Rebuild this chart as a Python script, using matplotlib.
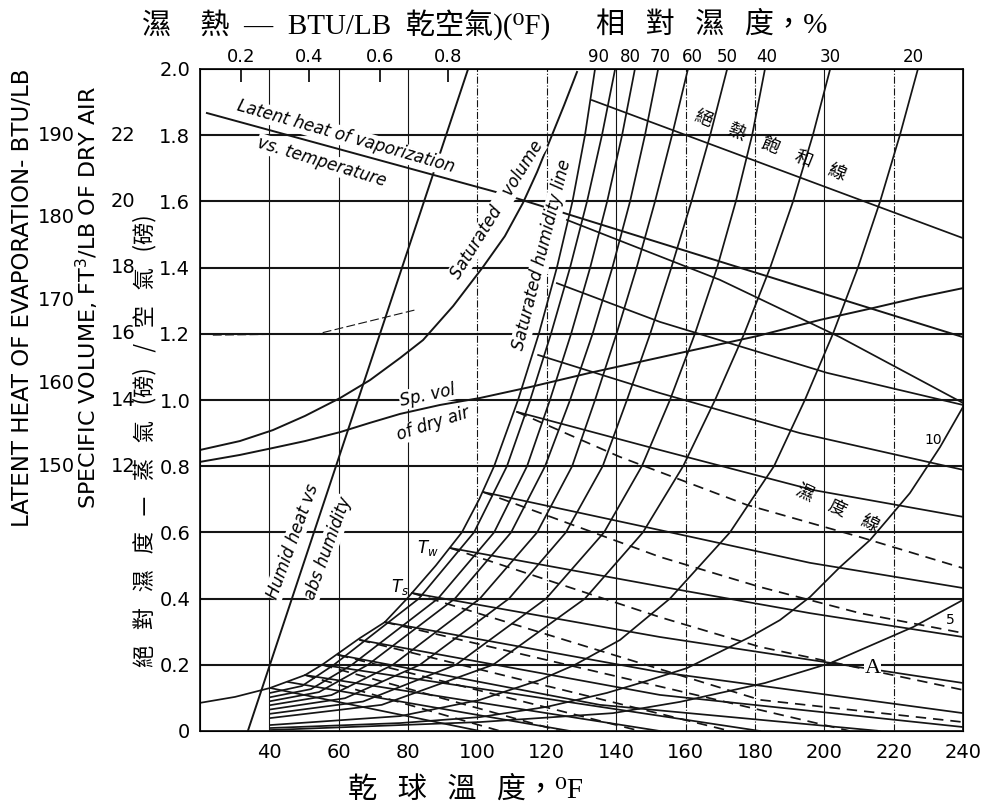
import matplotlib
matplotlib.use("Agg")
import matplotlib.pyplot as plt
from matplotlib.transforms import blended_transform_factory

plt.rcParams['font.family'] = ['DejaVu Sans', 'Noto Sans CJK TC']

CJK_SERIF = ['Liberation Serif', 'DejaVu Serif', 'Noto Sans CJK TC']
CJK = ['Noto Sans CJK TC', 'DejaVu Sans']

# axis scales
temp_ticks = [40, 60, 80, 100, 120, 140, 160, 180, 200, 220, 240]
hum_ticks = [0, 0.2, 0.4, 0.6, 0.8, 1.0, 1.2, 1.4, 1.6, 1.8, 2.0]
hum_labels = ['0', '0.2', '0.4', '0.6', '0.8', '1.0', '1.2', '1.4', '1.6', '1.8', '2.0']
humid_heat_vals = ['0.2', '0.4', '0.6', '0.8']
humid_heat_temps = [31.8, 51.4, 71.9, 91.5]
rh_label_vals = ['90', '80', '70', '60', '50', '40', '30', '20']
rh_label_temps = [134.8, 144.0, 152.6, 162.1, 172.0, 183.5, 201.7, 225.6]
latent_vals = ['150', '160', '170', '180', '190']
latent_hum = [0.8, 1.05, 1.3, 1.55, 1.8]
spvol_vals = ['12', '14', '16', '18', '20', '22']
spvol_hum = [0.8, 1.0, 1.2, 1.4, 1.6, 1.8]

# relative humidity curves: saturation line, then 90..30 % read at fixed humidity rows
rh100_T = [20, 30.1, 40.2, 50.3, 55.2, 66.0, 73.3, 79.7, 88.0, 95.5, 100.5, 104.8, 111.7, 117.7, 122.9, 127.4, 131.0, 133.9]
rh100_H = [0.085, 0.103, 0.13, 0.169, 0.2, 0.28, 0.329, 0.4, 0.5, 0.6, 0.7, 0.8, 1.0, 1.2, 1.4, 1.6, 1.8, 2.0]
rh_rows = [0.2, 0.4, 0.6, 0.8, 1.0, 1.2, 1.4, 1.6, 1.8, 2.0]
rh90_T = [40.2, 49.4, 58.6, 83.1, 99.0, 108.5, 115.2, 121.2, 126.7, 131.6, 135.9, 139.7]
rh80_T = [40.2, 52.0, 63.8, 88.6, 104.8, 114.3, 120.9, 127.0, 132.5, 137.4, 141.7, 145.4]
rh70_T = [40.2, 54.3, 68.4, 93.5, 109.7, 119.5, 126.7, 133.2, 138.9, 144.0, 148.3, 152.1]
rh60_T = [40.2, 57.9, 75.6, 100.7, 117.2, 127.3, 133.9, 140.1, 145.9, 151.2, 156.1, 160.7]
rh50_T = [40.2, 61.8, 83.4, 109.1, 125.5, 136.1, 143.1, 149.8, 155.9, 161.7, 167.1, 172.0]
rh40_T = [40.2, 67.0, 93.8, 119.8, 136.5, 147.4, 155.5, 162.7, 169.1, 174.5, 179.2, 182.9]
rh30_T = [40.2, 72.4, 104.5, 131.0, 147.7, 159.3, 168.5, 176.9, 184.4, 191.0, 196.7, 201.7]
rh_start_H = [0.115, 0.102, 0.09, 0.078, 0.065, 0.052, 0.039]
rh_low_H = [0.136, 0.1265, 0.1175, 0.1085, 0.099, 0.089, 0.079]
rh20_T = [40.2, 77.7, 100.7, 118.0, 128.1, 141.1, 155.5, 172.8, 185.5, 194.4, 202.5, 209.7, 216.1, 221.8, 227.0]
rh20_H = [0.018, 0.045, 0.094, 0.154, 0.2, 0.275, 0.4, 0.6, 0.8, 1.0, 1.2, 1.4, 1.6, 1.8, 2.0]
rh10_T = [40.2, 77.7, 100.7, 120.0, 137.3, 146.9, 160.4, 169.9, 178.6, 187.2, 195.9, 204.5, 213.2, 218.1, 224.7, 233.4, 240]
rh10_H = [0.009, 0.024, 0.042, 0.073, 0.115, 0.145, 0.19, 0.239, 0.284, 0.335, 0.405, 0.495, 0.577, 0.637, 0.719, 0.858, 0.979]
rh5_T = [40.2, 100.7, 139.1, 158.4, 182.9, 201.7, 225.6, 240]
rh5_H = [0.003, 0.027, 0.054, 0.088, 0.145, 0.205, 0.314, 0.396]

# adiabatic saturation lines (solid)
adiabatic = [
    ([133.0, 240], [1.906, 1.489]),
    ([125.8, 169.9, 204.5, 240], [1.544, 1.363, 1.19, 0.991]),
    ([122.9, 152.6, 200.8, 240], [1.353, 1.236, 1.082, 0.985]),
    ([117.5, 152.6, 193.0, 240], [1.136, 1.021, 0.9, 0.789]),
    ([111.4, 152.6, 196.8, 240], [0.964, 0.849, 0.728, 0.647]),
    ([101.6, 152.6, 195.9, 240], [0.722, 0.607, 0.508, 0.432]),
    ([92.1, 158.4, 195.9, 240], [0.553, 0.426, 0.356, 0.284]),
    ([81.1, 152.6, 240], [0.417, 0.284, 0.145]),
    ([73.3, 152.6, 240], [0.329, 0.178, 0.054]),
    ([66.1, 152.6, 240], [0.275, 0.109, 0.012]),
    ([59.8, 135.3, 216.1], [0.23, 0.079, 0.0]),
    ([55.2, 181.5], [0.2, 0.0]),
    ([50.3, 152.6], [0.169, 0.0]),
    ([45.4, 126.7], [0.148, 0.0]),
    ([40.2, 100.7], [0.13, 0.0]),
]
# wet bulb lines (dashed)
wetbulb = [
    ([111.4, 141.1, 177.7, 210.3, 240], [0.964, 0.828, 0.683, 0.586, 0.492]),
    ([101.6, 152.6, 181.5, 210.3, 240], [0.722, 0.526, 0.435, 0.356, 0.296]),
    ([92.1, 152.6, 181.5, 240], [0.553, 0.344, 0.254, 0.124]),
    ([81.1, 181.5, 240], [0.417, 0.094, 0.027]),
    ([73.3, 207.4], [0.329, 0.0]),
    ([66.1, 172.8], [0.275, 0.0]),
    ([59.8, 146.9], [0.23, 0.0]),
    ([55.2, 123.8], [0.2, 0.0]),
    ([50.3, 106.5], [0.169, 0.0]),
]

# property lines
latent_T = [22.0, 106.5, 240]
latent_H = [1.867, 1.625, 1.19]
humid_heat_T = [33.8, 97.3]
humid_heat_H = [0.0, 2.0]
satvol_T = [20, 31.5, 41.0, 50.3, 60.4, 69.0, 77.7, 84.3, 93.0, 101.6, 107.9, 113.1, 117.2, 120.9, 125.0, 128.7]
satvol_H = [0.849, 0.876, 0.909, 0.952, 1.006, 1.060, 1.127, 1.181, 1.284, 1.402, 1.495, 1.595, 1.689, 1.785, 1.891, 1.991]
dryvol_T = [20, 31.5, 41.0, 50.3, 60.4, 69.0, 77.7, 89.2, 100.7, 115.1, 132.4, 158.4, 180.6, 198.8, 214.1, 227.6, 240]
dryvol_H = [0.813, 0.834, 0.855, 0.876, 0.903, 0.931, 0.958, 0.985, 1.006, 1.039, 1.082, 1.142, 1.193, 1.242, 1.278, 1.311, 1.338]
guide_T = [23.7, 54.0, 82.0]
guide_H = [1.196, 1.2, 1.272]

grid_temps = [40, 60, 80, 100, 120, 140, 160, 180, 200, 220]
grid_styles = ['-', '-', '-', '-.', '-.', '-', '-.', '-.', '-', '-.']

fig = plt.figure(figsize=(9.82, 8.07), dpi=100)
ax = fig.add_axes([200 / 982, 1 - 731 / 807, 763 / 982, 662 / 807])
ax.set_xlim(20, 240)
ax.set_ylim(0, 2.0)

ink = '#151515'
for h in hum_ticks[1:-1]:
    ax.axhline(h, color=ink, lw=1.5, zorder=1)
for t, ls in zip(grid_temps, grid_styles):
    ax.axvline(t, color=ink, lw=0.8, ls=ls, zorder=1)

lw = 1.25
ax.plot(rh100_T, rh100_H, color=ink, lw=lw)
for T, h0, h1 in zip([rh90_T, rh80_T, rh70_T, rh60_T, rh50_T, rh40_T, rh30_T], rh_start_H, rh_low_H):
    ax.plot(T, [h0, h1] + rh_rows, color=ink, lw=lw)
ax.plot(rh20_T, rh20_H, color=ink, lw=lw)
ax.plot(rh10_T, rh10_H, color=ink, lw=lw)
ax.plot(rh5_T, rh5_H, color=ink, lw=lw)

for T, H in adiabatic:
    ax.plot(T, H, color=ink, lw=lw)
for T, H in wetbulb:
    ax.plot(T, H, color=ink, lw=lw, ls=(0, (6, 4)))

ax.plot(latent_T, latent_H, color=ink, lw=1.4)
ax.plot(humid_heat_T, humid_heat_H, color=ink, lw=1.4)
ax.plot(satvol_T, satvol_H, color=ink, lw=1.4)
ax.plot(dryvol_T, dryvol_H, color=ink, lw=1.4)
ax.plot(guide_T, guide_H, color=ink, lw=0.8, ls=(0, (8, 3)))

for s in ax.spines.values():
    s.set_linewidth(1.3)
    s.set_color(ink)

ax.set_xticks(temp_ticks)
ax.set_xticklabels([str(t) for t in temp_ticks])
ax.set_yticks(hum_ticks)
ax.set_yticklabels(hum_labels)
ax.tick_params(axis='x', length=0, pad=9, labelsize=14)
ax.tick_params(axis='y', length=0, pad=7, labelsize=14)

axt = ax.twiny()
axt.set_xlim(20, 240)
axt.set_xticks(humid_heat_temps)
axt.set_xticklabels(humid_heat_vals)
axt.tick_params(axis='x', direction='in', length=9, width=1.2, pad=2, labelsize=13)

top = blended_transform_factory(ax.transData, ax.transAxes)
for v, t in zip(rh_label_vals, rh_label_temps):
    ax.text(t, 1.004, v, transform=top, ha='center', va='bottom', fontsize=12)

# outer scales on the left
left = blended_transform_factory(fig.transFigure, ax.transData)
for v, h in zip(latent_vals, latent_hum):
    ax.text(56 / 982, h, v, transform=left, ha='center', va='center', fontsize=14)
for v, h in zip(spvol_vals, spvol_hum):
    ax.text(123 / 982, h, v, transform=left, ha='center', va='center', fontsize=14)

fig.text(23 / 982, 1 - 298 / 807, 'LATENT HEAT OF EVAPORATION- BTU/LB', rotation=90,
         ha='center', va='center', fontsize=16.5)
fig.text(87 / 982, 1 - 297 / 807, 'SPECIFIC VOLUME, FT$^3$/LB OF DRY AIR', rotation=90,
         ha='center', va='center', fontsize=16)
sep = '\u2002\u2009'
fig.text(145 / 982, 1 - 441 / 807,
         sep.join(['絕', '對', '濕', '度', '—', '蒸', '氣', '(磅)', '/', '空', '氣', '(磅)']),
         rotation=90, ha='center', va='center', fontsize=16, family=CJK)

fig.text(346 / 982, 1 - 25 / 807, '濕\u2003熱\u2002—\u2002BTU/LB\u2002乾空氣)(⁰F)', ha='center',
         va='center', fontsize=21, family=CJK_SERIF)
fig.text(712 / 982, 1 - 25 / 807, sep.join(['相', '對', '濕', '度，%']), ha='center', va='center',
         fontsize=21, family=CJK_SERIF)
fig.text(466 / 982, 1 - 790 / 807, sep.join(['乾', '球', '溫', '度，⁰F']), ha='center', va='center',
         fontsize=21, family=CJK_SERIF)

# labels inside the chart
gap = dict(fc='white', ec='none', pad=0.6)
it = dict(style='italic', fontsize=12, ha='center', va='center', rotation_mode='anchor')
ax.text(62.1, 1.795, 'Latent heat of vaporization', rotation=-16, bbox=gap, **it)
ax.text(55.2, 1.719, 'vs. temperature', rotation=-17, bbox=gap, **it)
ax.text(105.6, 1.574, 'Saturated   volume', rotation=58, bbox=gap, **it)
ax.text(118.6, 1.438, 'Saturated humidity line', rotation=76, bbox=gap, **it)
ax.text(85.7, 1.015, 'Sp. vol', rotation=12, bbox=gap, **it)
ax.text(87.2, 0.927, 'of dry air', rotation=18, bbox=gap, **it)
ax.text(46.8, 0.574, 'Humid heat vs', rotation=70, bbox=gap, **it)
ax.text(56.9, 0.553, 'abs humidity', rotation=70, bbox=gap, **it)
ax.text(85.7, 0.553, '$T_w$', fontsize=12, ha='center', va='center')
ax.text(77.7, 0.435, '$T_s$', fontsize=12, ha='center', va='center')
ax.text(184.4, 1.770, '絕\u3000熱\u3000飽\u3000和\u3000線', rotation=-22, ha='center', va='center',
        rotation_mode='anchor', fontsize=13, family=CJK)
ax.text(203.9, 0.674, '濕\u3000度\u3000線', rotation=-25, ha='center', va='center',
        rotation_mode='anchor', fontsize=13, family=CJK)
ax.text(231.3, 0.879, '10', fontsize=10, ha='center', va='center')
ax.text(236.3, 0.335, '5', fontsize=10, ha='center', va='center')
ax.text(214.0, 0.19, 'A', fontsize=16, ha='center', va='center', family='Liberation Serif',
        bbox=dict(fc='white', ec='none', pad=0.3))

fig.savefig('out.png', dpi=100)
